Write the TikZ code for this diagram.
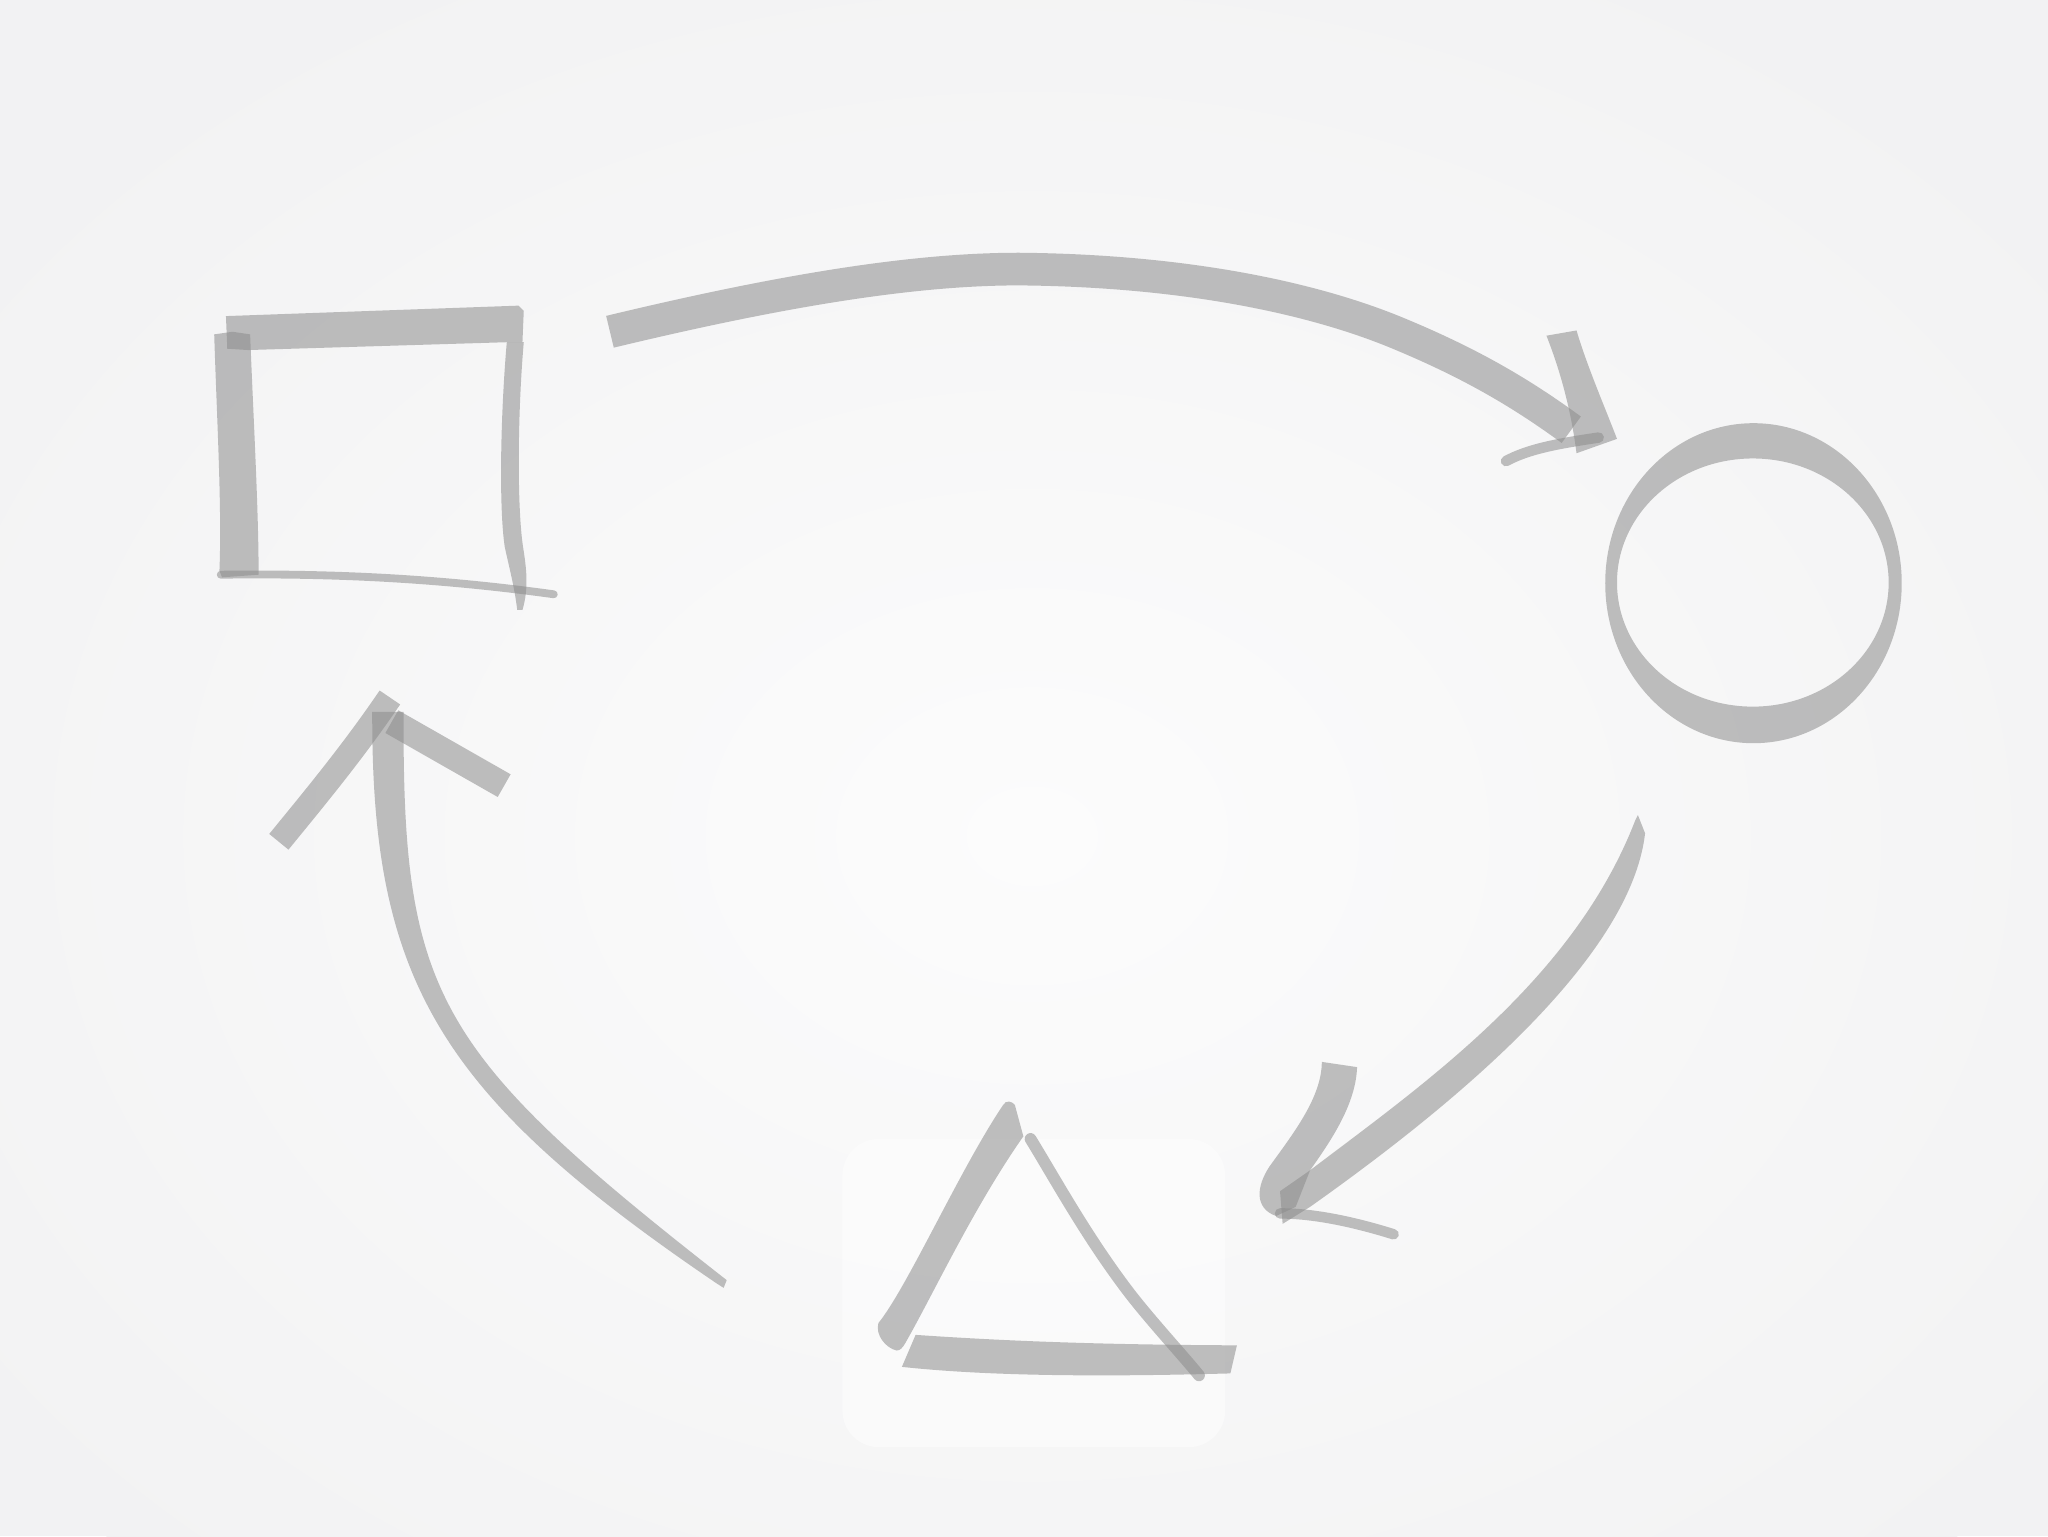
\documentclass[tikz,border=0pt]{standalone}
\definecolor{bgcol}{RGB}{242,242,243}
\definecolor{bgin}{RGB}{252,252,252}
\definecolor{inkgray}{RGB}{140,140,140}
\begin{document}
\begin{tikzpicture}[x=1pt,y=-1pt,
  ink/.style={fill=inkgray,fill opacity=0.55},
  inkline/.style={draw=inkgray,draw opacity=0.55,line join=round,line cap=round},
  inkbar/.style={draw=inkgray,draw opacity=0.55,line join=round,line cap=butt}]
\useasboundingbox (0,0) rectangle (1568,1176);
% background
\fill[bgcol] (0,0) rectangle (1568,1176);
\shade[inner color=bgin,outer color=bgcol] (790,640) ellipse [x radius=1000pt, y radius=760pt];
\fill[white,opacity=0.45,rounded corners=28pt] (645,872) rectangle (938,1108);

% named anchors of the three figures
\coordinate (sq) at (283,350);
\coordinate (ci) at (1342,446);
\coordinate (tr) at (810,960);

% ---------- square ----------
\fill[ink] (173,242) -- (397,234) -- (401,238) -- (400,262) -- (388,262) -- (190,268) -- (174,267) -- cycle;
\fill[ink] (164,256) .. controls (166,320) and (170,390) .. (168,437) -- (170,442) -- (198,440)
  .. controls (198,390) and (194,320) .. (191.5,256) -- (178,254) -- cycle;
\fill[ink] (401,262) .. controls (396,320) and (396,390) .. (400.5,419) .. controls (403,435) and (405,450) .. (400,467)
  -- (396,467) .. controls (394,450) and (390,435) .. (386.5,419) .. controls (382,390) and (383,320) .. (388,262) -- cycle;
\draw[inkline,line width=6pt] (169,440) .. controls (250,439) and (330,442) .. (424,455);

% ---------- circle ----------
\fill[ink,even odd rule] (1342.5,446.5) ellipse [x radius=113.5pt, y radius=122.5pt]
  (1342,446) ellipse [x radius=104pt, y radius=95pt];

% ---------- triangle ----------
\fill[ink] (686.5,1034) .. controls (678,1032) and (670,1022) .. (672.5,1013)
  .. controls (695,985) and (735,895) .. (768,846) .. controls (770,842) and (775,843) .. (777,846)
  -- (783.5,870) .. controls (745,925) and (715,990) .. (693,1028.5)
  .. controls (691,1032) and (689,1034) .. (686.5,1034) -- cycle;
\draw[inkline,line width=9pt] (789,872) .. controls (808,903) and (832,947) .. (864,989) .. controls (880,1010) and (905,1037) .. (918,1053);
\fill[ink] (701,1022) .. controls (760,1026) and (830,1029.5) .. (947,1030) -- (942,1051.5)
  .. controls (850,1054) and (760,1054) .. (690.5,1046.5) -- cycle;

% ---------- arrow: square -> circle ----------
\draw[inkbar,line width=25pt] (467,254) .. controls (600,222) and (700,206) .. (780,206)
  .. controls (900,207) and (1000,226) .. (1070,255) .. controls (1128,279) and (1166,302) .. (1203,329);
\fill[ink] (1184,257) .. controls (1195,285) and (1203,315) .. (1207,347) -- (1238,336)
  .. controls (1228,310) and (1215,280) .. (1207,253) -- cycle;
\draw[inkline,line width=8pt] (1153,353) .. controls (1170,344) and (1190,340) .. (1224,335);

% ---------- arrow: circle -> triangle ----------
\fill[ink] (1254,624) -- (1259.5,638) .. controls (1250,720) and (1150,820) .. (1003,924) -- (982,937)
  -- (980,912) -- (1003,896) .. controls (1090,830) and (1205,750) .. (1252,628) -- cycle;
\fill[ink] (1012,813) .. controls (1012,840) and (990,868) .. (972,893) .. controls (962,908) and (960,925) .. (977,931)
  -- (992,924) -- (1003,896) .. controls (1020,872) and (1038,845) .. (1039,817) -- cycle;
\draw[inkline,line width=8pt] (980,929) .. controls (1005,929) and (1035,935) .. (1067,945);

% ---------- arrow: triangle -> square ----------
\fill[ink] (285,545) .. controls (284.2,751.4) and (336.9,838.9) .. (548.7,982.6) -- (554,986) -- (556.4,980.1)
  .. controls (332.8,805.4) and (308.1,761.9) .. (309,545) -- cycle;
\draw[inkbar,line width=19pt] (213.5,644.5) .. controls (240,612) and (270,576) .. (298.5,534);
\draw[inkbar,line width=20pt] (300,552.5) -- (386,601.5);
\end{tikzpicture}
\end{document}
